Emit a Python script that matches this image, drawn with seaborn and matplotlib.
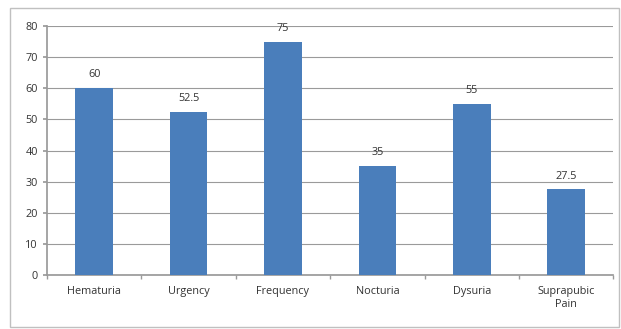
import matplotlib

matplotlib.use("Agg")
import matplotlib.pyplot as plt
import numpy as np
import pandas as pd
import seaborn as sns
from matplotlib.patches import Rectangle

symptoms = ["Hematuria", "Urgency", "Frequency", "Nocturia", "Dysuria", "Suprapubic\nPain"]
percent = [60, 52.5, 75, 35, 55, 27.5]
value_labels = ["60", "52.5", "75", "35", "55", "27.5"]
y_ticks = [0, 10, 20, 30, 40, 50, 60, 70, 80]

sns.set_theme(style="white")
plt.rcParams["font.family"] = ["Open Sans", "DejaVu Sans"]

df = pd.DataFrame({"symptom": symptoms, "percent": percent})

fig = plt.figure(figsize=(6.21, 3.29), dpi=100)
ax = fig.add_axes([0.0757, 0.164, 0.912, 0.757])

sns.barplot(data=df, x="symptom", y="percent", color="#4a7ebb", width=0.4,
            saturation=1, linewidth=0, ax=ax, zorder=3)

ax.set_ylim(0, 80)
ax.set_yticks(y_ticks)
ax.set_xlim(-0.5, len(symptoms) - 0.5)
ax.yaxis.grid(True, color="#9a9a9a", lw=0.8, zorder=0)
ax.set_xlabel("")
ax.set_ylabel("")
for s in ["top", "right"]:
    ax.spines[s].set_visible(False)
ax.spines["left"].set_color("#9a9a9a")
ax.spines["bottom"].set_color("#9a9a9a")
ax.tick_params(axis="y", labelsize=7.8, colors="#333333", length=3, left=True,
               direction="out", color="#9a9a9a")
ax.tick_params(axis="x", labelsize=7.8, colors="#333333", length=0, pad=8)

# small ticks at the category boundaries
ax.set_xticks(np.arange(-0.5, len(symptoms)), minor=True)
ax.tick_params(axis="x", which="minor", length=3, bottom=True, color="#9a9a9a")

for i, (v, lab) in enumerate(zip(percent, value_labels)):
    ax.text(i, v + 2.5, lab, ha="center", va="bottom", fontsize=7.8, color="#333333")

fig.patches.append(Rectangle((10 / 621, 2 / 329), 609 / 621, 319 / 329,
                             transform=fig.transFigure, fill=False,
                             edgecolor="#c0c0c0", lw=1))

fig.savefig("out.png", dpi=100)
